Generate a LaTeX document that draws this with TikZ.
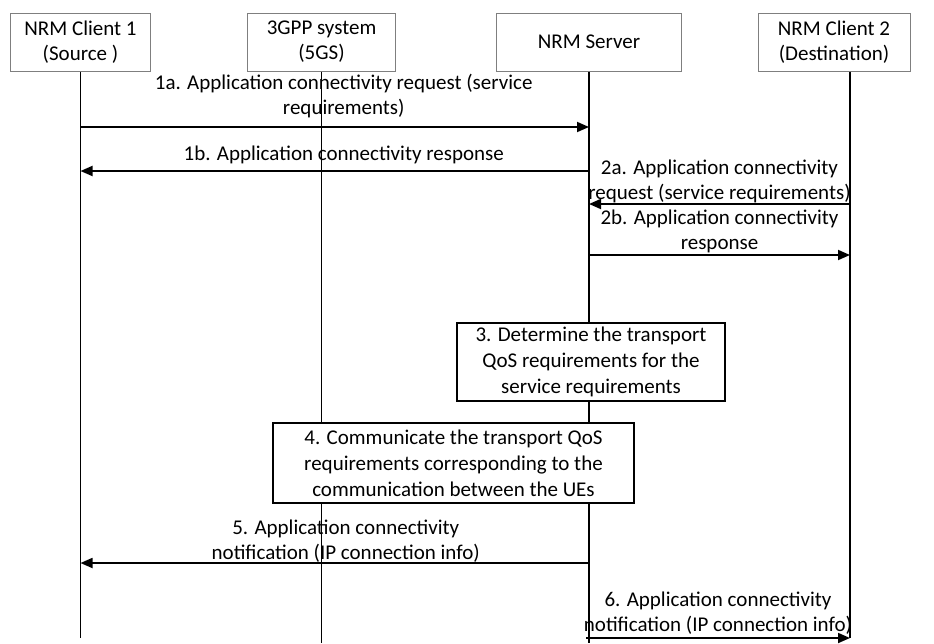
\documentclass[tikz,border=0pt]{standalone}
\usepackage{fontspec}
\setmainfont{Carlito}
\usetikzlibrary{arrows.meta,positioning}
\definecolor{framegray}{HTML}{7F7F7F}
\tikzset{actor/.style={draw=framegray,line width=1pt,fill=white,minimum height=58,align=center,inner sep=2pt},stepbox/.style={draw,line width=1.2pt,fill=white,align=center,inner sep=2pt,font=\fontsize{21}{26}\selectfont},life/.style={line width=1.2pt},msg/.style={-{Triangle[length=12pt,width=10pt]},line width=1.8pt},lbl/.style={align=center,inner sep=0pt,anchor=south}}

\begin{document}
\begin{tikzpicture}[x=1pt,y=-1pt,font=\fontsize{21}{25}\selectfont]
\useasboundingbox (0,0) rectangle (934,643);
\node[actor,minimum width=140] (cli1) at (80.5,42) {NRM Client 1\\(Source )};
\node[actor,minimum width=148] (gpp) at (321.5,42) {3GPP system\\(5GS)};
\node[actor,minimum width=185] (srv) at (589,42) {NRM Server};
\node[actor,minimum width=152] (cli2) at (834,42) {NRM Client 2\\(Destination)};
\coordinate (cli2l) at ([xshift=16]cli2.south);
% lifelines
\coordinate (end1) at (cli1 |- 0,638);\coordinate (end2) at (gpp |- 0,643);\coordinate (end3) at (srv |- 0,643);\coordinate (end4) at (cli2l |- 0,638);
\draw[life] (cli1.south) -- (end1);\draw[life] (gpp.south) -- (end2);\draw[life] (srv.south) -- (end3);\draw[life] (cli2l) -- (end4);
% steps 3 and 4
\node[stepbox,minimum width=268,minimum height=78] (qos) at (591,362) {3. Determine the transport\\QoS requirements for the\\service requirements};
\node[stepbox,minimum width=361,minimum height=80] (comm) at (453.5,463) {4. Communicate the transport QoS\\requirements corresponding to the\\communication between the UEs};
% messages
\draw[msg] (cli1 |- 0,127) -- node[lbl,yshift=8,xshift=9] {1a. Application connectivity request (service\\requirements)} (srv |- 0,127);
\draw[msg] (srv |- 0,171) -- node[lbl,yshift=6,xshift=9] {1b. Application connectivity response} (cli1 |- 0,171);
\draw[msg] (cli2l |- 0,204) -- node[lbl,yshift=0] {2a. Application connectivity\\request (service requirements)} (srv |- 0,204);
\draw[msg] (srv |- 0,255) -- node[lbl,yshift=1] {2b. Application connectivity\\response} (cli2l |- 0,255);
\draw[msg] (srv |- 0,563) -- node[lbl,yshift=0,xshift=11] {5. Application connectivity\\notification (IP connection info)} (cli1 |- 0,563);
\draw[msg] ([xshift=-3]srv |- 0,638) -- node[lbl,yshift=3] {6. Application connectivity\\notification (IP connection info)} (cli2l |- 0,638);
\end{tikzpicture}
\end{document}
